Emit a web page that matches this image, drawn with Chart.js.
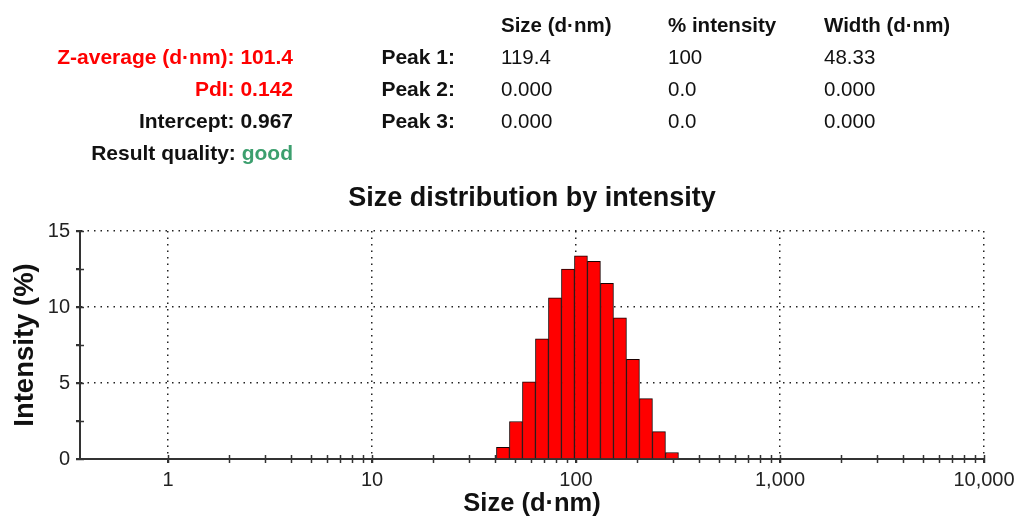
<!DOCTYPE html>
<html>
<head>
<meta charset="utf-8">
<script src="https://cdn.jsdelivr.net/npm/chart.js@4.4.1/dist/chart.umd.min.js"></script>
<style>
  html, body { margin: 0; padding: 0; background: #fff; }
  #wrap { position: relative; width: 1015px; height: 524px; overflow: hidden; font-family: "Liberation Sans", Arial, sans-serif; color: #111; }
  #wrap canvas { position: absolute; left: 0; top: 0; }
  .t { position: absolute; white-space: nowrap; line-height: 21px; }
  .l { font-size: 21px; font-weight: bold; text-align: right; }
  .h { font-size: 20.5px; font-weight: bold; }
  .v { font-size: 20.5px; }
  .red { color: #ff0000; }
  .green { color: #3c9f6e; }
</style>
</head>
<body>
<div id="wrap">
  <canvas id="c" width="1015" height="524"></canvas>

  <div class="t l red" style="right:722px; top:46px;">Z-average (d·nm): 101.4</div>
  <div class="t l red" style="right:722px; top:78px;">PdI: 0.142</div>
  <div class="t l" style="right:722px; top:110px;">Intercept: 0.967</div>
  <div class="t l" style="right:722px; top:142px;">Result quality: <span class="green">good</span></div>

  <div class="t l" style="right:560px; top:46px;">Peak 1:</div>
  <div class="t l" style="right:560px; top:78px;">Peak 2:</div>
  <div class="t l" style="right:560px; top:110px;">Peak 3:</div>

  <div class="t h" style="left:501px; top:14px;">Size (d·nm)</div>
  <div class="t h" style="left:668px; top:14px;">% intensity</div>
  <div class="t h" style="left:824px; top:14px;">Width (d·nm)</div>

  <div class="t v" style="left:501px; top:46px;">119.4</div>
  <div class="t v" style="left:668px; top:46px;">100</div>
  <div class="t v" style="left:824px; top:46px;">48.33</div>
  <div class="t v" style="left:501px; top:78px;">0.000</div>
  <div class="t v" style="left:668px; top:78px;">0.0</div>
  <div class="t v" style="left:824px; top:78px;">0.000</div>
  <div class="t v" style="left:501px; top:110px;">0.000</div>
  <div class="t v" style="left:668px; top:110px;">0.0</div>
  <div class="t v" style="left:824px; top:110px;">0.000</div>
</div>
<script>
// ---- data ----
const sizeClasses = [43.82, 50.75, 58.77, 68.06, 78.82, 91.28, 105.7, 122.4, 141.8, 164.2, 190.1, 220.2, 255.0, 295.3];
const intensities = [0.77, 2.47, 5.08, 7.9, 10.6, 12.5, 13.37, 13.0, 11.55, 9.28, 6.55, 3.97, 1.8, 0.43];
const xMajorTicks = [1, 10, 100, 1000, 10000];
const xMinorMultipliers = [2, 3, 4, 5, 6, 7, 8, 9];
const yLabelTicks = [0, 5, 10, 15];
const yStep = 2.5;

const AXIS = '#333333';
const DOT = '#222222';
const FONT = '"Liberation Sans", Arial, sans-serif';

const innerTicks = {
  id: 'innerTicks',
  beforeDatasetsDraw(chart) {
    const ctx = chart.ctx;
    const xs = chart.scales.x, ys = chart.scales.y;
    const a = chart.chartArea;
    ctx.save();
    ctx.strokeStyle = AXIS;
    ctx.lineWidth = 1.5;
    const xv = [];
    for (let i = 0; i < xMajorTicks.length; i++) {
      xv.push(xMajorTicks[i]);
      if (i < xMajorTicks.length - 1) xMinorMultipliers.forEach(m => xv.push(m * xMajorTicks[i]));
    }
    xv.forEach(v => {
      const px = Math.round(xs.getPixelForValue(v)) + 0.5;
      ctx.beginPath();
      ctx.moveTo(px, a.bottom - 4);
      ctx.lineTo(px, a.bottom + 4);
      ctx.stroke();
    });
    ys.ticks.forEach(t => {
      const py = Math.round(ys.getPixelForValue(t.value)) + 0.5;
      ctx.beginPath();
      ctx.moveTo(a.left - 4, py);
      ctx.lineTo(a.left + 4, py);
      ctx.stroke();
    });
    ctx.restore();
  }
};

new Chart(document.getElementById('c'), {
  type: 'bar',
  data: {
    datasets: [{
      data: sizeClasses.map((s, i) => ({ x: s, y: intensities[i] })),
      backgroundColor: '#ff0000',
      borderColor: '#1a0000',
      borderWidth: 1,
      borderSkipped: 'start',
      categoryPercentage: 1,
      barPercentage: 1
    }]
  },
  options: {
    responsive: false,
    animation: false,
    devicePixelRatio: 1,
    layout: { padding: { left: 0, right: 31, top: 0, bottom: 0 } },
    plugins: {
      legend: { display: false },
      tooltip: { enabled: false },
      title: { display: false }
    },
    scales: {
      x: {
        type: 'logarithmic',
        min: 0.37,
        max: 10000,
        offset: false,
        afterBuildTicks: scale => { scale.ticks = xMajorTicks.map(v => ({ value: v })); },
        afterFit: scale => { scale.height = 65; scale.paddingLeft = 0; scale.paddingRight = 0; },
        ticks: {
          autoSkip: false,
          maxRotation: 0,
          padding: 5,
          color: '#222',
          font: { family: FONT, size: 20 },
          callback: v => Number(v).toLocaleString('en-US')
        },
        grid: {
          offset: false,
          color: DOT,
          lineWidth: 1.5,
          tickColor: AXIS,
          tickWidth: 1.5,
          tickLength: 4
        },
        border: { display: true, color: AXIS, width: 2, dash: [1.5, 5] },
        title: {
          display: true,
          text: 'Size (d·nm)',
          color: '#111',
          font: { family: FONT, size: 25.5, weight: 'bold', lineHeight: 1.2 },
          padding: { top: 0, bottom: 5 }
        }
      },
      xTitle: {
        type: 'logarithmic',
        position: 'top',
        min: 0.37,
        max: 10000,
        offset: false,
        afterFit: scale => { scale.height = 231; scale.paddingLeft = 0; scale.paddingRight = 0; },
        ticks: { display: false },
        grid: { display: false, drawTicks: false },
        border: { display: false },
        title: {
          display: true,
          text: 'Size distribution by intensity',
          color: '#111',
          font: { family: FONT, size: 27, weight: 'bold', lineHeight: 1.2 },
          padding: { top: 182, bottom: 0 }
        }
      },
      y: {
        min: 0,
        max: 15,
        afterFit: scale => { scale.width = 80; scale.paddingTop = 0; scale.paddingBottom = 0; },
        ticks: {
          stepSize: yStep,
          autoSkip: false,
          padding: 6,
          color: '#222',
          font: { family: FONT, size: 20 },
          callback: v => (yLabelTicks.includes(v) ? String(v) : '')
        },
        grid: {
          color: c => (c.tick && c.tick.value > 0 && yLabelTicks.includes(c.tick.value) ? DOT : 'rgba(0,0,0,0)'),
          lineWidth: 1.5,
          tickColor: AXIS,
          tickWidth: 1.5,
          tickLength: 4
        },
        border: { display: true, color: AXIS, width: 2, dash: [1.5, 5] },
        title: {
          display: true,
          text: 'Intensity (%)',
          color: '#111',
          font: { family: FONT, size: 27.5, weight: 'bold', lineHeight: 1.2 },
          padding: { top: 9, bottom: 0 }
        }
      }
    }
  },
  plugins: [innerTicks]
});
</script>
</body>
</html>
